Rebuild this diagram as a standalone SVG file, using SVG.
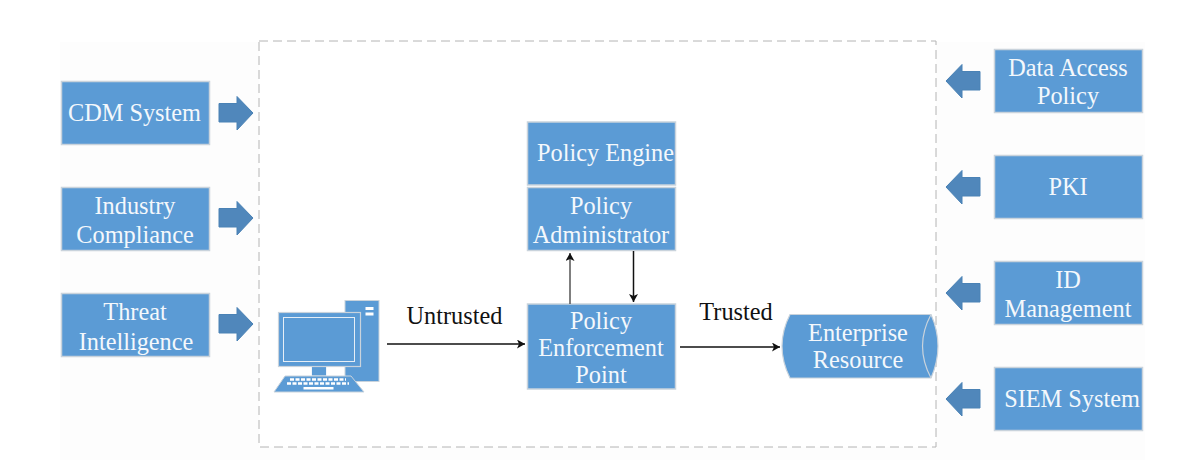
<svg xmlns="http://www.w3.org/2000/svg" width="1200" height="470" viewBox="0 0 1200 470">
<style>
.box{fill:#5b9bd5;stroke:#c9d3dc;stroke-width:1.5}
.t{font-family:"Liberation Serif","Times New Roman",serif;font-size:24.3px;fill:#f4f8fc;text-anchor:middle}
.k{font-family:"Liberation Serif","Times New Roman",serif;font-size:24.3px;fill:#111;text-anchor:middle}
.ar{fill:#5087bb;stroke:#4a82b5;stroke-width:1}
.c{stroke:#111;stroke-width:1.5;fill:none;marker-end:url(#h)}
</style>
<defs><marker id="h" markerUnits="userSpaceOnUse" markerWidth="9" markerHeight="10" refX="8" refY="4.500" orient="auto"><path d="M0 0L8 4.500L0 9L2 4.500Z" fill="#111"/></marker></defs>
<rect width="1200" height="470" fill="#fff"/>
<rect x="60" y="42" width="1085" height="418" fill="#fdfdfd"/>
<rect id="boundary" x="259" y="41" width="677" height="406" fill="#fff" stroke="#b4b4b4" stroke-width="1" stroke-dasharray="9 5"/>
<g id="cdm"><rect class="box" x="61.500" y="81.500" width="148" height="63"/><text class="t" x="134.500" y="120.500">CDM System</text></g>
<g id="industry"><rect class="box" x="61.500" y="187.500" width="148" height="63"/><text class="t" x="135" y="213.500">Industry</text><text class="t" x="135" y="242.500">Compliance</text></g>
<g id="threat"><rect class="box" x="61.500" y="293.500" width="148" height="63"/><text class="t" x="135" y="319.500">Threat</text><text class="t" x="136" y="349.500">Intelligence</text></g>
<g id="data-access"><rect class="box" x="994.500" y="49.500" width="148" height="63"/><text class="t" x="1068" y="75.500">Data Access</text><text class="t" x="1068" y="103.500">Policy</text></g>
<g id="pki"><rect class="box" x="994.500" y="155.500" width="148" height="63"/><text class="t" x="1068" y="194.500">PKI</text></g>
<g id="id-management"><rect class="box" x="994.500" y="261.500" width="148" height="63"/><text class="t" x="1068" y="287.500">ID</text><text class="t" x="1068" y="316.500">Management</text></g>
<g id="siem"><rect class="box" x="994.500" y="367.500" width="148" height="63"/><text class="t" x="1072" y="406.500">SIEM System</text></g>
<g id="policy-engine"><rect class="box" x="527.500" y="122" width="148" height="63"/><text class="t" x="605.500" y="160.500">Policy Engine</text></g>
<g id="policy-admin"><rect class="box" x="527.500" y="187.500" width="148" height="63"/><text class="t" x="601" y="213.500">Policy</text><text class="t" x="601" y="242.500">Administrator</text></g>
<g id="pep"><rect class="box" x="527.500" y="304" width="148" height="85"/><text class="t" x="601" y="328.500">Policy</text><text class="t" x="601" y="355.500">Enforcement</text><text class="t" x="601" y="382.500">Point</text></g>
<g id="enterprise-resource">
<path d="M790 314.500H931Q945 346 931 378H790Q774 346 790 314.500Z" fill="#5b9bd5" stroke="#c9d3dc" stroke-width="1.200"/>
<path d="M931 314.500Q914 346 931 378" fill="none" stroke="#c9d3dc" stroke-width="1.200"/>
<text class="t" x="858" y="340.500">Enterprise</text><text class="t" x="858" y="367.500">Resource</text>
</g>
<g id="computer">
<rect x="345" y="300.500" width="34" height="81" fill="#5b9bd5" stroke="#c9d3dc" stroke-width="1"/>
<rect x="365.500" y="307" width="8" height="3" fill="#fff"/><rect x="365.500" y="312.500" width="8" height="3" fill="#fff"/>
<rect x="311.500" y="366" width="15" height="10" fill="#5b9bd5" stroke="#fff" stroke-width=".8"/>
<rect x="278.500" y="312.500" width="82" height="54" fill="#5b9bd5" stroke="#c9d3dc" stroke-width="1.200"/>
<rect x="283.500" y="317.500" width="71" height="44" fill="#5b9bd5" stroke="#e6eef6" stroke-width="1"/>
<path d="M285 376H351L364 392H274Z" fill="#5b9bd5" stroke="#c9d3dc" stroke-width="1"/>
<path d="M290 379.500H346M287 383.500H349" stroke="#fff" stroke-width="2.500" stroke-dasharray="4 1.500" fill="none"/>
<rect x="303.500" y="387" width="30" height="2.500" fill="#fff"/>
</g>
<g id="connectors">
<path class="ar" d="M219 103.500H237V96.500L253 113L237 130V122H219Z"/>
<path class="ar" d="M219 208.500H237V201.500L253 218L237 235V227H219Z"/>
<path class="ar" d="M219 314.500H237V307.500L253 324L237 341V333H219Z"/>
<path class="ar" d="M980 71.500H962V64.500L946 81L962 98V90H980Z"/>
<path class="ar" d="M980 177.500H962V170.500L946 187L962 204V196H980Z"/>
<path class="ar" d="M980 283.500H962V276.500L946 293L962 310V302H980Z"/>
<path class="ar" d="M980 389.500H962V382.500L946 399L962 416V408H980Z"/>
<path class="c" d="M387 344H525"/>
<path class="c" d="M680 347H780"/>
<path class="c" d="M570 304V253" style="stroke:#555"/>
<path class="c" d="M633.500 251V302"/>
</g>
<text class="k" x="454.500" y="323.500">Untrusted</text>
<text class="k" x="736" y="320">Trusted</text>
</svg>
